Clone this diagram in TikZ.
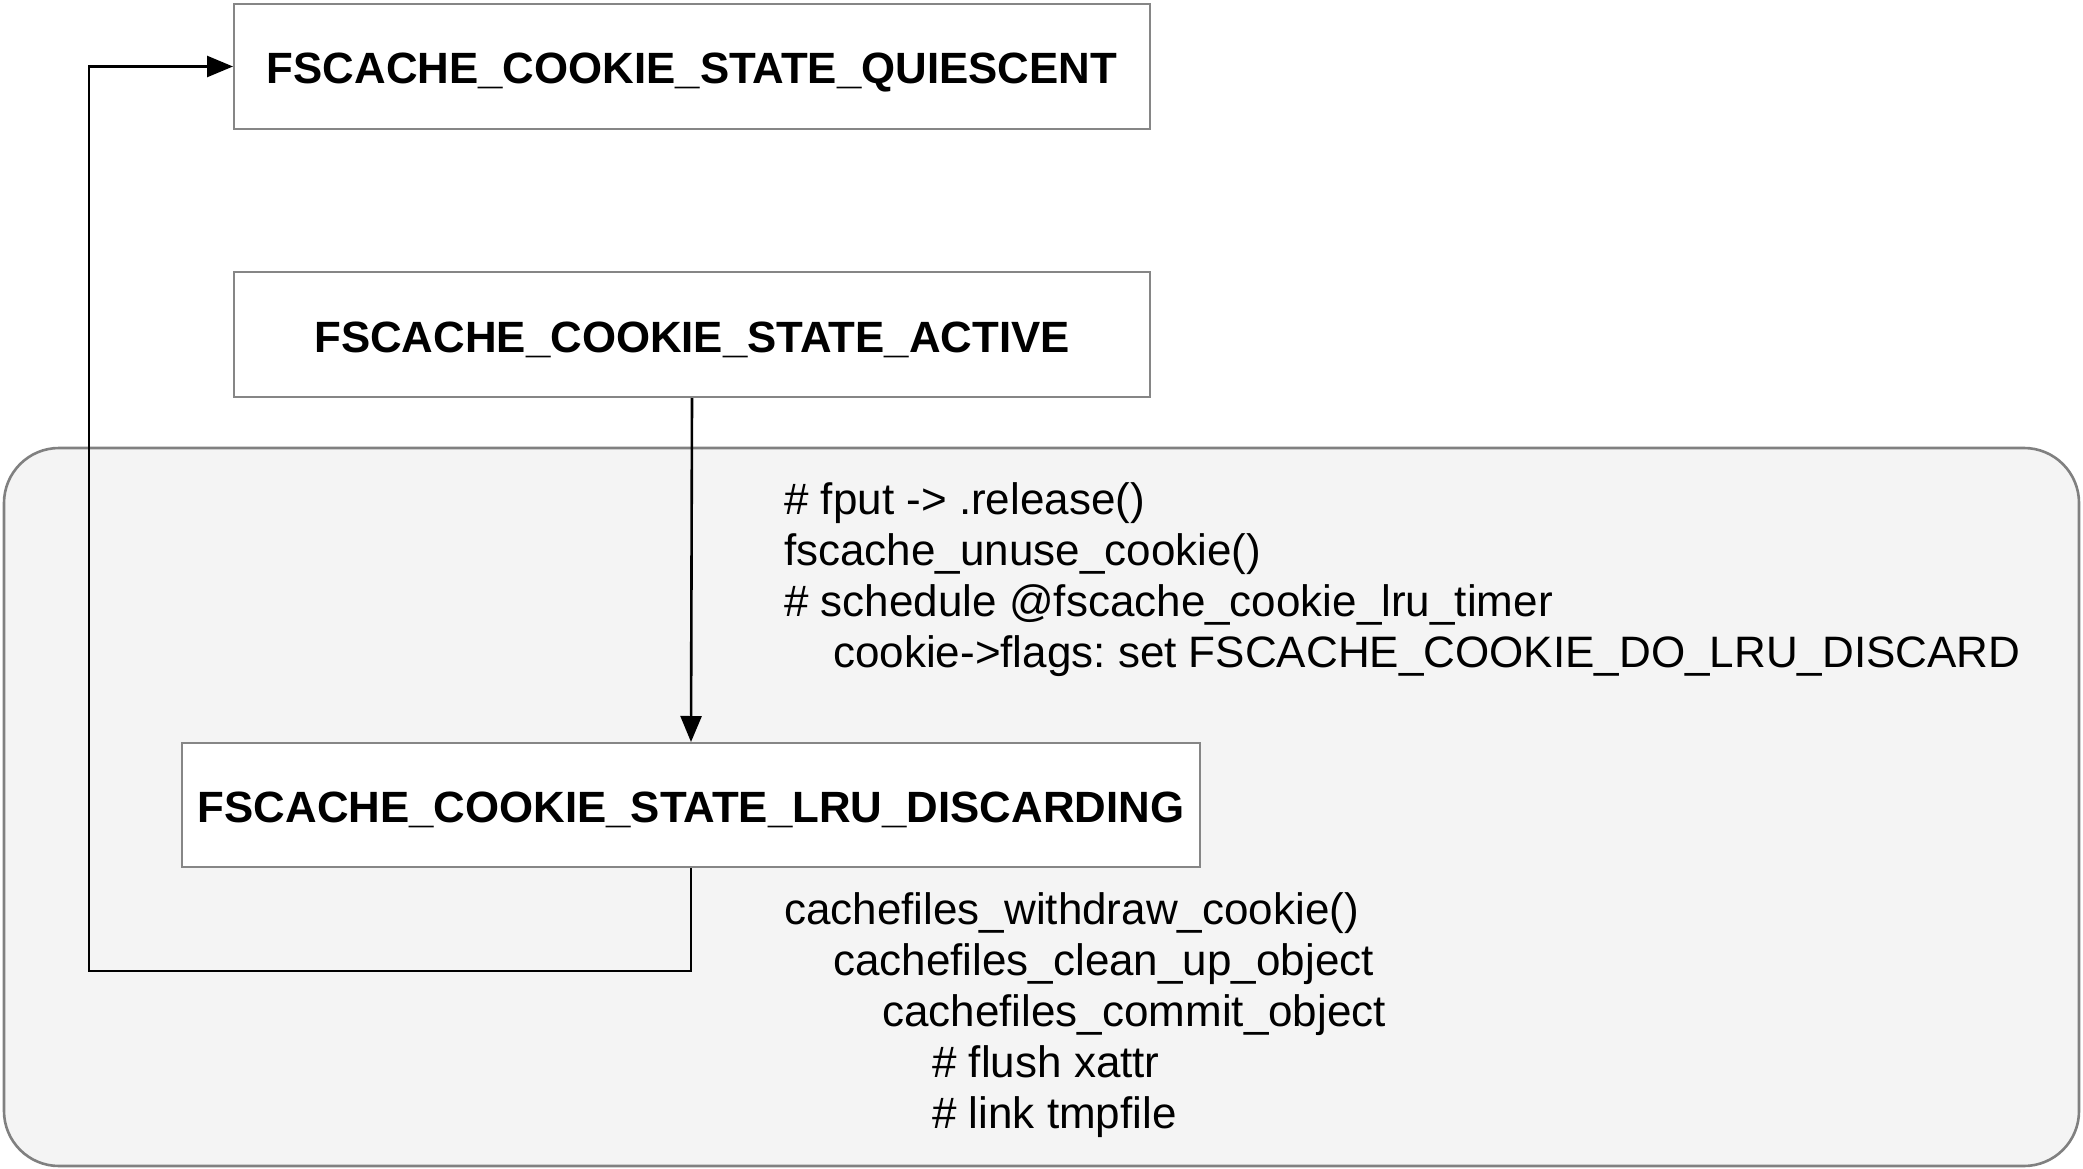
\documentclass[tikz,border=0pt]{standalone}
\usepackage{fontspec}
\setmainfont{Liberation Sans}
\usetikzlibrary{arrows.meta}
\frenchspacing
\definecolor{boxline}{HTML}{868686}
\definecolor{groupfill}{HTML}{F4F4F4}
\definecolor{groupline}{HTML}{808080}
\tikzset{
  x=1pt, y=1pt,
  statebox/.style={draw=boxline, line width=2pt, fill=white, inner sep=0pt,
    minimum height=125pt, text height=35pt, text depth=0pt,
    font=\fontsize{43.8}{50}\selectfont\bfseries},
  groupbox/.style={draw=groupline, line width=2.6pt, fill=groupfill, rounded corners=55pt},
  note/.style={anchor=mid west, inner sep=0pt, font=\fontsize{44}{51}\selectfont},
  conn/.style={draw=black, line width=2.6pt, -{Triangle[width=21pt,length=26pt]}},
}
\begin{document}
\begin{tikzpicture}
\useasboundingbox (0,0) rectangle (2083,-1169);
\path[groupbox] (4,-448) rectangle (2079,-1166);

\node[statebox, minimum width=916pt] (quiescent) at (692,-66.5) {FSCACHE\_COOKIE\_STATE\_QUIESCENT};
\node[statebox, minimum width=916pt] (active) at (692,-334.5) {FSCACHE\_COOKIE\_STATE\_ACTIVE};
\node[statebox, minimum width=1018pt, minimum height=124pt] (lru) at (691,-805) {FSCACHE\_COOKIE\_STATE\_LRU\_DISCARDING};

\coordinate (loopc) at (89,-971);
\draw[conn] (active.south) -- (lru.north);
\draw[conn] (lru.south) |- (loopc) |- (quiescent.west);

\node[note] (n1) at (784,-512) {\# fput -> .release()};
\node[note] (n2) at (784,-563) {fscache\_unuse\_cookie()};
\node[note] (n3) at (784,-614) {\# schedule @fscache\_cookie\_lru\_timer};
\node[note] (n4) at (833,-665) {cookie->flags: set FSCACHE\_COOKIE\_DO\_LRU\_DISCARD};

\node[note] (m1) at (784,-922) {cachefiles\_withdraw\_cookie()};
\node[note] (m2) at (833,-973) {cachefiles\_clean\_up\_object};
\node[note] (m3) at (882,-1024) {cachefiles\_commit\_object};
\node[note] (m4) at (932,-1075) {\# flush xattr};
\node[note] (m5) at (932,-1126) {\# link tmpfile};
\end{tikzpicture}
\end{document}
